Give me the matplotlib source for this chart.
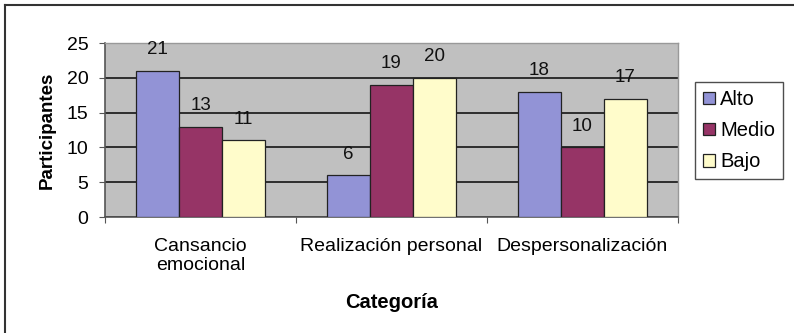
import matplotlib
matplotlib.use("Agg")
import matplotlib.pyplot as plt
from matplotlib.lines import Line2D
import numpy as np

categories = ["Cansancio\nemocional", "Realización personal", "Despersonalización"]
series_names = ["Alto", "Medio", "Bajo"]
alto = [21, 6, 18]
medio = [13, 19, 10]
bajo = [11, 20, 17]
colors = ["#9293D6", "#963466", "#FFFCCB"]
yticks = [0, 5, 10, 15, 20, 25]

plt.rcParams['font.family'] = ['Liberation Sans', 'DejaVu Sans']

W, H = 794, 333
fig = plt.figure(figsize=(W / 100, H / 100), dpi=100)
ax = fig.add_axes([105 / W, 1 - 217 / H, (678 - 105) / W, (217 - 43) / H])
ax.set_facecolor("#C0C0C0")

x = np.arange(len(categories))
bw = 0.225
for i, (name, vals, c) in enumerate(zip(series_names, [alto, medio, bajo], colors)):
    pos = x + (i - 1) * bw
    ax.bar(pos, vals, bw, color=c, edgecolor="#222222", linewidth=0.9,
           label=name, zorder=3)
    for p, v in zip(pos, vals):
        ax.text(p, v + 3.0, str(v), ha="center", va="center", fontsize=13.5,
                color="#111111", zorder=4)

ax.set_xlim(-0.5, len(categories) - 0.5)
ax.set_ylim(0, 25)
ax.set_yticks(yticks)
ax.set_yticklabels([str(t) for t in yticks], fontsize=14)
ax.yaxis.grid(True, color="#222222", linewidth=1.3, zorder=1)
ax.set_axisbelow(True)
ax.set_xticks(np.arange(-0.5, len(categories) + 0.5, 1))
ax.set_xticklabels([])
ax.set_xticks(x, minor=True)
ax.set_xticklabels(categories, minor=True, fontsize=14)
ax.tick_params(axis="x", which="minor", length=0, pad=15)
ax.tick_params(axis="x", which="major", length=4, color="#555555")
ax.tick_params(axis="y", length=4, color="#555555", pad=8)
for s in ["top", "right"]:
    ax.spines[s].set_color("#999999")
    ax.spines[s].set_linewidth(1.0)
for s in ["left", "bottom"]:
    ax.spines[s].set_color("#555555")
    ax.spines[s].set_linewidth(1.2)

ax.set_ylabel("Participantes", fontsize=13.5, fontweight="bold", labelpad=8)
fig.text((105 + 678) / 2 / W, 1 - 302 / H, "Categoría", ha="center", va="center",
         fontsize=14.5, fontweight="bold")

leg = ax.legend(loc="upper left", bbox_to_anchor=(695 / W, 1 - 82 / H),
                bbox_transform=fig.transFigure, frameon=True, fontsize=14.5,
                handlelength=0.6, handleheight=0.6, handletextpad=0.25,
                borderpad=0.4, labelspacing=0.6, fancybox=False, borderaxespad=0)
leg.get_frame().set_edgecolor("#222222")
leg.get_frame().set_linewidth(1.0)

# outer border (top and left)
fig.add_artist(Line2D([5 / W, 1], [1 - 5 / H, 1 - 5 / H], transform=fig.transFigure,
                      color="#333333", linewidth=1.5))
fig.add_artist(Line2D([5 / W, 5 / W], [0, 1 - 5 / H], transform=fig.transFigure,
                      color="#333333", linewidth=1.5))

fig.savefig("out.png", dpi=100, facecolor="white")
